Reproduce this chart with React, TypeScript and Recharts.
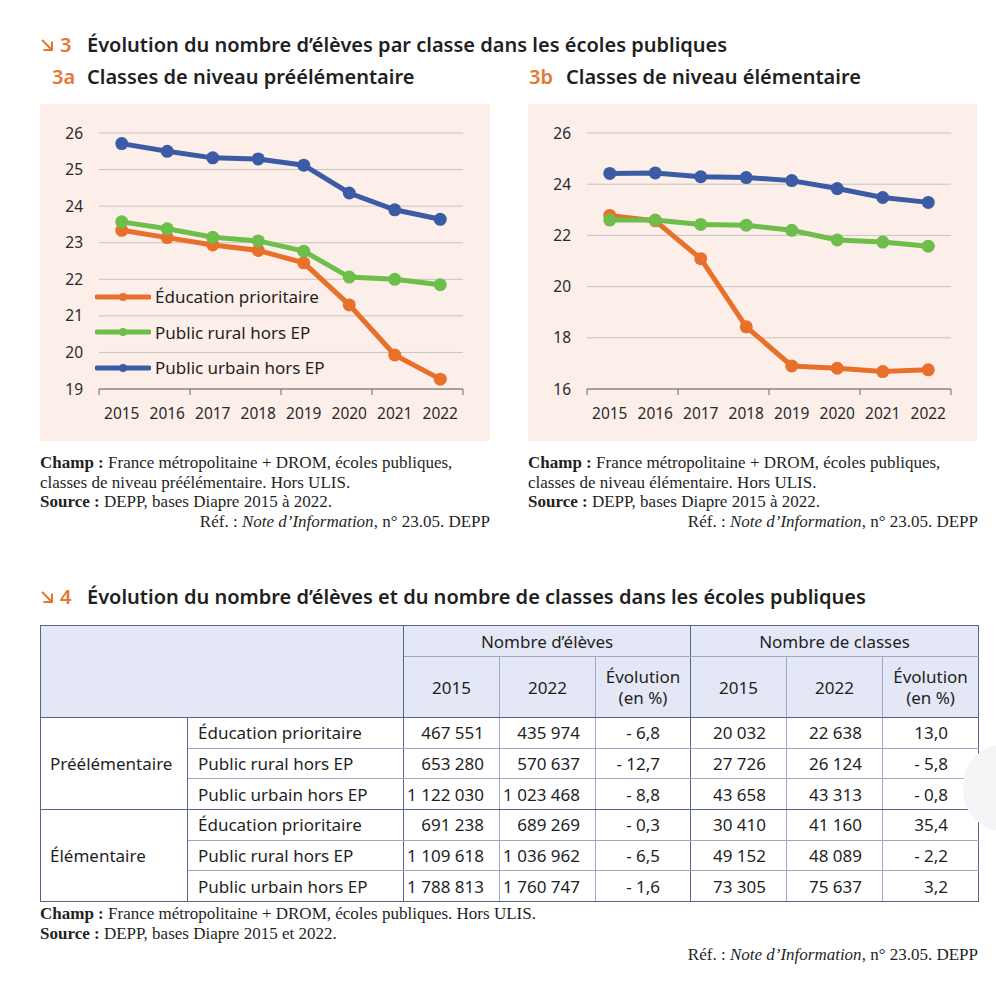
import { LineChart, Line, XAxis, YAxis, CartesianGrid } from 'recharts';

const years = [2015, 2016, 2017, 2018, 2019, 2020, 2021, 2022];

// 3a – préélémentaire
const preEp = [23.34, 23.14, 22.94, 22.79, 22.45, 21.3, 19.93, 19.27];
const preRural = [23.57, 23.38, 23.15, 23.05, 22.77, 22.06, 22.0, 21.85];
const preUrbain = [25.71, 25.5, 25.32, 25.29, 25.12, 24.36, 23.9, 23.64];
const preTicks = [19, 20, 21, 22, 23, 24, 25, 26];

// 3b – élémentaire
const elemEp = [22.78, 22.57, 21.09, 18.43, 16.9, 16.81, 16.68, 16.75];
const elemRural = [22.6, 22.6, 22.43, 22.4, 22.2, 21.82, 21.74, 21.58];
const elemUrbain = [24.42, 24.44, 24.29, 24.26, 24.14, 23.83, 23.48, 23.29];
const elemTicks = [16, 18, 20, 22, 24, 26];

const seriesNames = ['Éducation prioritaire', 'Public rural hors EP', 'Public urbain hors EP'];

// tableau 4
const groups = ['Préélémentaire', 'Élémentaire'];
const eleves2015 = ['467 551', '653 280', '1 122 030', '691 238', '1 109 618', '1 788 813'];
const eleves2022 = ['435 974', '570 637', '1 023 468', '689 269', '1 036 962', '1 760 747'];
const elevesEvol = ['- 6,8', '- 12,7', '- 8,8', '- 0,3', '- 6,5', '- 1,6'];
const classes2015 = ['20 032', '27 726', '43 658', '30 410', '49 152', '73 305'];
const classes2022 = ['22 638', '26 124', '43 313', '41 160', '48 089', '75 637'];
const classesEvol = ['13,0', '- 5,8', '- 0,8', '35,4', '- 2,2', '3,2'];

const COLORS = ['#E8702A', '#6DBE4B', '#3B5BA5'];
const SANS = '"Noto Sans", "Open Sans", sans-serif';
const SERIF = '"Liberation Serif", "DejaVu Serif", serif';
const INK = '#1f1f1f';
const ORANGE = '#E27833';

const bounds = [...years.map((y) => y - 0.5), years[years.length - 1] + 0.5];

function Arrow() {
  return (
    <svg width="14" height="14" viewBox="0 0 14 14" style={{ display: 'inline-block' }}>
      <path d="M2 2 L11.5 11.5 M3.5 12 H12 V3.5" stroke={ORANGE} strokeWidth="2" fill="none" />
    </svg>
  );
}

function Panel({ left, width, ticks, domain, values }: any) {
  const data = years.map((y, i) => ({ year: y, ep: values[0][i], rural: values[1][i], urbain: values[2][i] }));
  const keys = ['ep', 'rural', 'urbain'];
  const xDomain = [bounds[0], bounds[bounds.length - 1]];
  return (
    <div style={{ position: 'absolute', left, top: 104, width, height: 337, background: '#FCEFEA' }}>
      <LineChart width={width} height={337} data={data} margin={{ top: 29, right: width - 423, bottom: 0, left: 0 }}>
        <CartesianGrid horizontal vertical={false} stroke="#C9C2C0" xAxisId="l" />
        <XAxis
          xAxisId="b"
          type="number"
          dataKey="year"
          domain={xDomain}
          ticks={bounds}
          tick={() => <g />}
          height={6}
          stroke="#6a6a6a"
          tickSize={6}
        />
        <XAxis
          xAxisId="l"
          type="number"
          dataKey="year"
          domain={xDomain}
          ticks={years}
          axisLine={false}
          tickLine={false}
          tickSize={0}
          tickMargin={13}
          height={46}
          tick={{ fontSize: 15.5, fill: '#2a2a2a', fontFamily: SANS }}
        />
        <YAxis
          type="number"
          domain={domain}
          ticks={ticks}
          axisLine={false}
          tickLine={false}
          tickSize={0}
          tickMargin={16}
          width={59}
          tick={{ fontSize: 15.5, fill: '#2a2a2a', fontFamily: SANS }}
        />
        {/* invisible series tying the boundary-tick axis to the data */}
        <Line xAxisId="b" dataKey="ep" stroke="none" dot={false} activeDot={false} isAnimationActive={false} />
        {keys.map((k, i) => (
          <Line
            key={k}
            xAxisId="l"
            dataKey={k}
            stroke={COLORS[i]}
            strokeWidth={5}
            dot={{ r: 6.5, fill: COLORS[i], stroke: COLORS[i], strokeWidth: 0 }}
            isAnimationActive={false}
          />
        ))}
      </LineChart>
    </div>
  );
}

function Notes({ left, width, level }: any) {
  return (
    <div style={{ position: 'absolute', left, top: 453, width, fontFamily: SERIF, fontSize: 17, lineHeight: '19.5px', color: INK }}>
      <div><b>Champ :</b> France métropolitaine + DROM, écoles publiques,</div>
      <div>{level}. Hors ULIS.</div>
      <div><b>Source :</b> DEPP, bases Diapre 2015 à 2022.</div>
      <div style={{ textAlign: 'right' }}>
        Réf. : <i>Note d’Information</i>, n° 23.05. DEPP
      </div>
    </div>
  );
}

const DARK = '1.5px solid #56648A';
const LIGHT = '1px solid #9EA8C6';

export default function App() {
  const cell: any = { fontFamily: SANS, fontSize: 17, color: INK, padding: 0, whiteSpace: 'nowrap' };
  const head: any = { ...cell, background: '#E4E7F6', textAlign: 'center' };
  const titleStyle: any = { position: 'absolute', fontFamily: SANS, fontWeight: 600, fontSize: 20, color: INK, whiteSpace: 'nowrap' };
  return (
    <div style={{ position: 'absolute', left: 0, top: 0, width: 996, height: 984, background: '#fff', overflow: 'hidden' }}>
      {/* titre 3 */}
      <div style={{ ...titleStyle, left: 40, top: 31 }}>
        <Arrow />
        <span style={{ color: ORANGE, marginLeft: 6 }}>3</span>
        <span style={{ position: 'absolute', left: 47 }}>Évolution du nombre d’élèves par classe dans les écoles publiques</span>
      </div>
      <div style={{ ...titleStyle, left: 52, top: 63 }}>
        <span style={{ color: ORANGE }}>3a</span>
        <span style={{ position: 'absolute', left: 35 }}>Classes de niveau préélémentaire</span>
      </div>
      <div style={{ ...titleStyle, left: 529, top: 63 }}>
        <span style={{ color: ORANGE }}>3b</span>
        <span style={{ position: 'absolute', left: 37 }}>Classes de niveau élémentaire</span>
      </div>

      <Panel left={40} width={450} ticks={preTicks} domain={[19, 26]} values={[preEp, preRural, preUrbain]} />
      <Panel left={528} width={449} ticks={elemTicks} domain={[16, 26]} values={[elemEp, elemRural, elemUrbain]} />

      {/* légende 3a */}
      <div style={{ position: 'absolute', left: 95, top: 279 }}>
        {seriesNames.map((n, i) => (
          <div key={n} style={{ display: 'flex', alignItems: 'center', height: 35.5 }}>
            <svg width="56" height="12">
              <line x1="2" y1="6" x2="54" y2="6" stroke={COLORS[i]} strokeWidth="5" strokeLinecap="round" />
              <circle cx="28" cy="6" r="4" fill={COLORS[i]} />
            </svg>
            <span style={{ marginLeft: 4, fontFamily: SANS, fontSize: 17, color: INK }}>{n}</span>
          </div>
        ))}
      </div>

      <Notes left={40} width={450} level="classes de niveau préélémentaire" />
      <Notes left={528} width={450} level="classes de niveau élémentaire" />

      {/* titre 4 */}
      <div style={{ ...titleStyle, left: 40, top: 583 }}>
        <Arrow />
        <span style={{ color: ORANGE, marginLeft: 6 }}>4</span>
        <span style={{ position: 'absolute', left: 47 }}>Évolution du nombre d’élèves et du nombre de classes dans les écoles publiques</span>
      </div>

      <table
        style={{ position: 'absolute', left: 40, top: 625, width: 938, borderCollapse: 'collapse', tableLayout: 'fixed', border: DARK }}
      >
        <colgroup>
          {[147, 216, 96, 96, 95, 96, 96, 96].map((w, i) => (
            <col key={i} style={{ width: w }} />
          ))}
        </colgroup>
        <tbody>
          <tr style={{ height: 31 }}>
            <td colSpan={2} rowSpan={2} style={{ ...head, borderRight: DARK, borderBottom: DARK }} />
            <td colSpan={3} style={{ ...head, borderRight: DARK, borderBottom: LIGHT }}>Nombre d’élèves</td>
            <td colSpan={3} style={{ ...head, borderBottom: LIGHT }}>Nombre de classes</td>
          </tr>
          <tr style={{ height: 61 }}>
            {['2015', '2022', 'Évolution\n(en %)', '2015', '2022', 'Évolution\n(en %)'].map((t, i) => (
              <td
                key={i}
                style={{
                  ...head,
                  whiteSpace: 'pre-line',
                  lineHeight: '21px',
                  borderBottom: DARK,
                  borderRight: i === 2 ? DARK : i === 5 ? 'none' : LIGHT,
                }}
              >
                {t}
              </td>
            ))}
          </tr>
          {eleves2015.map((_, r) => {
            const last = r % 3 === 2;
            const bb = last ? DARK : LIGHT;
            const num = (v: string, pr: number, br: string) => (
              <td style={{ ...cell, textAlign: 'right', paddingRight: pr, borderBottom: bb, borderRight: br }}>{v}</td>
            );
            return (
              <tr key={r} style={{ height: 30.7 }}>
                {r % 3 === 0 && (
                  <td rowSpan={3} style={{ ...cell, paddingLeft: 9, borderRight: DARK, borderBottom: DARK }}>
                    {groups[r / 3]}
                  </td>
                )}
                <td style={{ ...cell, paddingLeft: 10, borderBottom: bb, borderRight: DARK }}>{seriesNames[r % 3]}</td>
                {num(eleves2015[r], 15, LIGHT)}
                {num(eleves2022[r], 15, LIGHT)}
                {num(elevesEvol[r], 30, DARK)}
                {num(classes2015[r], 20, LIGHT)}
                {num(classes2022[r], 20, LIGHT)}
                {num(classesEvol[r], 30, 'none')}
              </tr>
            );
          })}
        </tbody>
      </table>

      <div style={{ position: 'absolute', left: 963, top: 745, width: 80, height: 86, borderRadius: 43, background: '#F5F5F7' }} />

      <div style={{ position: 'absolute', left: 40, top: 904, width: 938, fontFamily: SERIF, fontSize: 17, lineHeight: '19.5px', color: INK }}>
        <div><b>Champ :</b> France métropolitaine + DROM, écoles publiques. Hors ULIS.</div>
        <div><b>Source :</b> DEPP, bases Diapre 2015 et 2022.</div>
        <div style={{ textAlign: 'right', marginTop: 2 }}>
          Réf. : <i>Note d’Information</i>, n° 23.05. DEPP
        </div>
      </div>
    </div>
  );
}
